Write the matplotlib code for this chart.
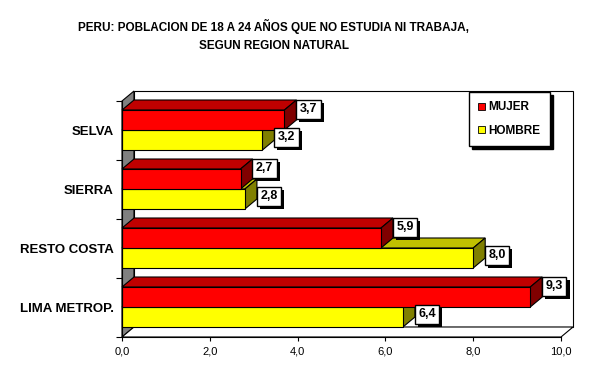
import matplotlib.pyplot as plt
from matplotlib.patches import Polygon, Patch
import matplotlib.patheffects as pe

# data (bottom to top)
regions = ['LIMA METROP.', 'RESTO COSTA', 'SIERRA', 'SELVA']
mujer = [9.3, 5.9, 2.7, 3.7]
hombre = [6.4, 8.0, 2.8, 3.2]
xticks = [0, 2, 4, 6, 8, 10]

plt.rcParams['font.family'] = ['Liberation Sans', 'DejaVu Sans']

W, H = 592, 387
fig = plt.figure(figsize=(W / 100, H / 100), dpi=100)
fig.patch.set_facecolor('white')

# front plane of the plot area, in pixels
x0p, x1p, ytop, ybot = 122, 561, 101, 337
ax = fig.add_axes([x0p / W, 1 - ybot / H, (x1p - x0p) / W, (ybot - ytop) / H])
ax.set_xlim(0, 10)
ax.set_ylim(0, len(regions))
ax.patch.set_visible(False)

# depth of the 3d effect (pixels -> data units)
pxx = (x1p - x0p) / 10.0
pxy = (ybot - ytop) / float(len(regions))
DX = 12 / pxx
DY = 10 / pxy
n = len(regions)
lw = 0.8

def poly(pts, fc, z):
    ax.add_patch(Polygon(pts, closed=True, facecolor=fc, edgecolor='black',
                         lw=lw, clip_on=False, zorder=z))

# walls
poly([(0, 0), (0, n), (DX, n + DY), (DX, DY)], '#808080', 1)
poly([(DX, DY), (10 + DX, DY), (10 + DX, n + DY), (DX, n + DY)], 'white', 1)
poly([(0, 0), (10, 0), (10 + DX, DY), (DX, DY)], 'white', 1)

h = 20 / pxy
colors = {'MUJER': ('#ff0000', '#c00000', '#800000'),
          'HOMBRE': ('#ffff00', '#c0c000', '#808000')}

def bar3d(v, y0, y1, cols, z):
    front, top, side = cols
    poly([(0, y1), (v, y1), (v + DX, y1 + DY), (DX, y1 + DY)], top, z)
    poly([(v, y0), (v + DX, y0 + DY), (v + DX, y1 + DY), (v, y1)], side, z)
    poly([(0, y0), (v, y0), (v, y1), (0, y1)], front, z)

shadow = [pe.SimplePatchShadow(offset=(2.2, -2.2), shadow_rgbFace='black', alpha=1),
          pe.Normal()]

def label(v, yc, dy_px):
    txt = ('%.1f' % v).replace('.', ',')
    t = ax.annotate(txt, xy=(v + DX, yc), xytext=(12 * 0.72, dy_px * 0.72),
                    textcoords='offset points', ha='center', va='center',
                    fontsize=9, fontweight='bold', color='black',
                    bbox=dict(boxstyle='square,pad=0.28', fc='white', ec='black', lw=1),
                    zorder=21, annotation_clip=False)
    t.get_bbox_patch().set_path_effects(shadow)

for k in range(n - 1, -1, -1):
    c = k + 0.5 + 0.5 / pxy
    z = 5 + (n - k) * 2
    bar3d(hombre[k], c - h, c, colors['HOMBRE'], z)
    bar3d(mujer[k], c, c + h, colors['MUJER'], z + 1)
    label(mujer[k], c + h / 2, 11)
    label(hombre[k], c - h / 2, 3)

# axes
for s in ['top', 'right']:
    ax.spines[s].set_visible(False)
for s in ['left', 'bottom']:
    ax.spines[s].set_linewidth(lw)
    ax.spines[s].set_zorder(30)
ax.set_xticks(xticks)
ax.set_xticklabels([('%.1f' % t).replace('.', ',') for t in xticks], fontsize=8)
ax.set_yticks(range(n + 1))
ax.set_yticklabels([])
ax.set_yticks([k + 0.5 for k in range(n)], minor=True)
ax.set_yticklabels(regions, minor=True, fontsize=9.5, fontweight='bold')
ax.tick_params(axis='y', which='minor', length=0, pad=6)
ax.tick_params(axis='y', which='major', length=4, width=lw)
ax.tick_params(axis='x', length=3, width=lw, pad=4)

# legend
handles = [Patch(facecolor='#ff0000', edgecolor='black', lw=0.6, label='MUJER'),
           Patch(facecolor='#ffff00', edgecolor='black', lw=0.6, label='HOMBRE')]
leg = fig.legend(handles=handles, loc='upper left',
                 bbox_to_anchor=(469 / W, 1 - 92 / H), frameon=True, fancybox=False,
                 shadow={'color': 'black', 'alpha': 1}, edgecolor='black',
                 prop={'size': 8.5, 'weight': 'bold'}, handlelength=0.55,
                 handleheight=0.55, handletextpad=0.3, labelspacing=0.95,
                 borderpad=0.8, borderaxespad=0)
leg.get_frame().set_linewidth(1)
leg.get_frame().set_alpha(1)

fig.text(274 / W, 1 - 35.5 / H,
         'PERU: POBLACION DE 18 A 24 AÑOS QUE NO ESTUDIA NI TRABAJA,\nSEGUN REGION NATURAL',
         ha='center', va='center', fontsize=8.5, fontweight='bold', linespacing=1.6)

fig.savefig('out.png', dpi=100)
